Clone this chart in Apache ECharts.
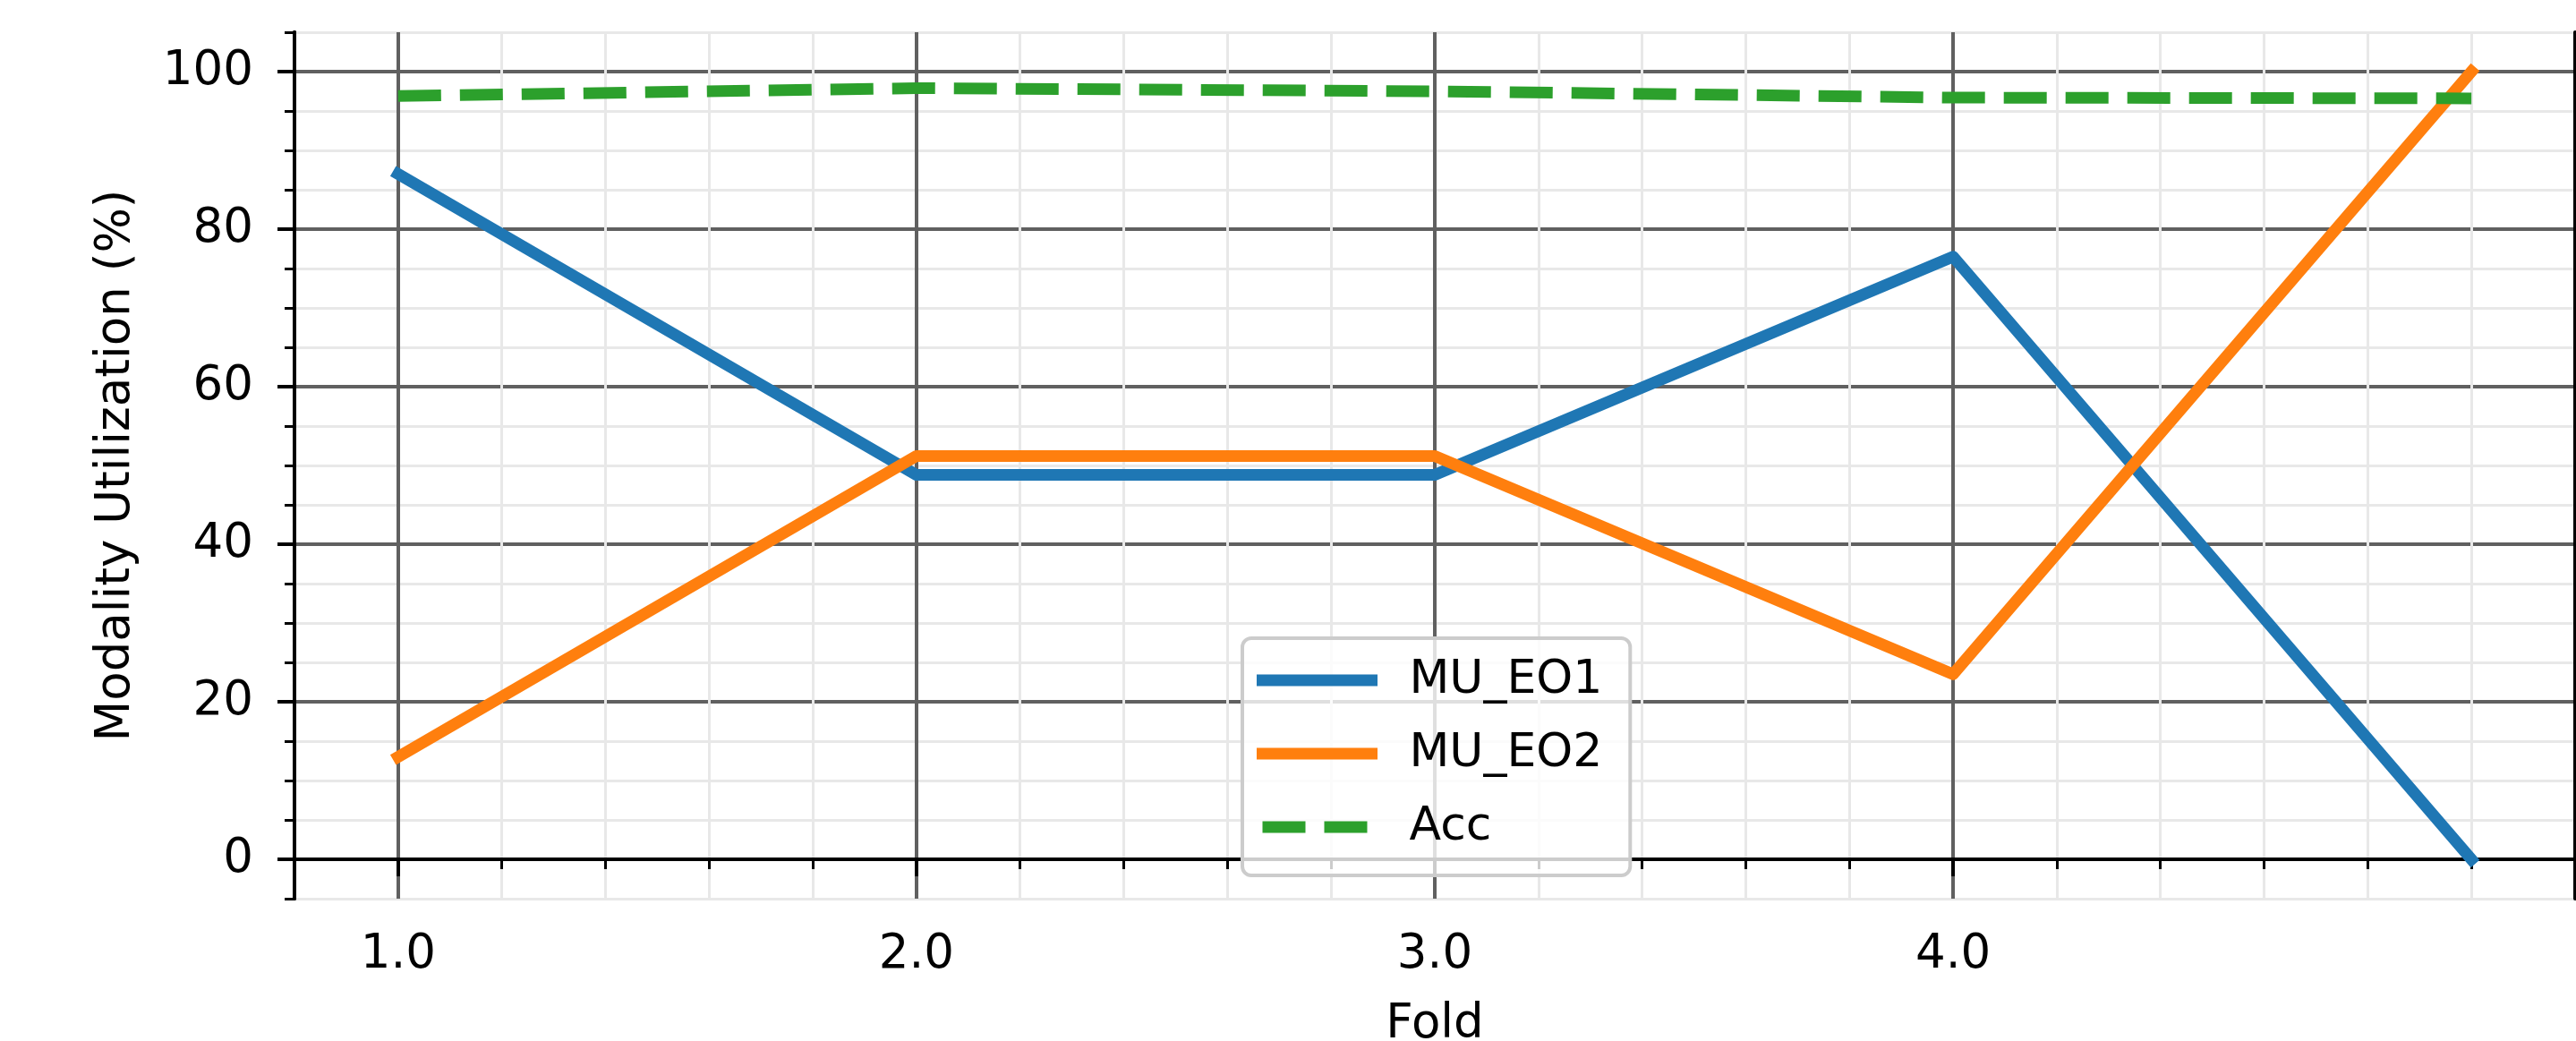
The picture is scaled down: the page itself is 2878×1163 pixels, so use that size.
<!DOCTYPE html>
<html>
<head>
<meta charset="utf-8">
<script src="https://cdn.jsdelivr.net/npm/echarts@6/dist/echarts.min.js"></script>
<style>
html, body { margin: 0; padding: 0; background: #fff; }
#chart { width: 2878px; height: 1163px; }
</style>
</head>
<body>
<div id="chart"></div>
<script>
// data
var folds = [1, 2, 3, 4, 5];
var muEo1 = [87, 48.8, 48.8, 76.5, 0];
var muEo2 = [13, 51.2, 51.2, 23.5, 100];
var acc = [96.9, 97.9, 97.5, 96.7, 96.6];

// tick marks
var xMajorTicks = [1, 2, 3, 4];
var xMinorTicks = [1, 1.2, 1.4, 1.6, 1.8, 2, 2.2, 2.4, 2.6, 2.8, 3, 3.2, 3.4, 3.6, 3.8, 4, 4.2, 4.4, 4.6, 4.8, 5];
var yMajorTicks = [0, 20, 40, 60, 80, 100];

var font = 'DejaVu Sans';

var pairs = function (ys) {
  return folds.map(function (f, i) { return [f, ys[i]]; });
};

var hidden = { show: false };

var myChart = echarts.init(document.getElementById('chart'));
var option = {
  animation: false,
  backgroundColor: '#fff',
  grid: { left: 329, right: 1, top: 36, bottom: 159, outerBoundsMode: 'none', containLabel: false },
  legend: {
    orient: 'vertical',
    left: 1388,
    top: 713,
    padding: [16, 31, 23, 16],
    itemWidth: 122,
    itemHeight: 13,
    itemGap: 20,
    backgroundColor: 'rgba(255,255,255,0.8)',
    borderColor: '#cccccc',
    borderWidth: 4,
    borderRadius: 10,
    lineStyle: { width: 13 },
    itemStyle: { opacity: 0 },
    textStyle: { fontFamily: font, fontSize: 52, color: '#000', lineHeight: 62, padding: [0, 0, 0, 37] },
    data: ['MU_EO1', 'MU_EO2', 'Acc']
  },
  xAxis: [
    {
      // minor grid / ticks, carries the data
      type: 'value', min: 0.8, max: 5.2,
      axisLine: { show: true, lineStyle: { color: '#000', width: 4 } },
      axisTick: { show: true, length: 11, customValues: xMinorTicks, lineStyle: { color: '#000', width: 3 } },
      axisLabel: hidden,
      splitLine: { show: true, lineStyle: { color: '#e8e8e8', width: 3 } }
    },
    {
      // major grid / ticks / labels
      type: 'value', min: 0.8, max: 5.2, position: 'bottom',
      name: 'Fold', nameLocation: 'middle', nameGap: 115,
      nameTextStyle: { fontFamily: font, fontSize: 53, color: '#000' },
      axisLine: { show: true, lineStyle: { color: '#000', width: 4 } },
      axisTick: { show: true, length: 19, customValues: xMajorTicks, lineStyle: { color: '#000', width: 4 } },
      axisLabel: {
        show: true, customValues: xMajorTicks, margin: 37,
        fontFamily: font, fontSize: 53, color: '#000',
        formatter: function (v) { return v.toFixed(1); }
      },
      splitLine: { show: true, lineStyle: { color: '#606060', width: 4 } }
    },
    {
      // top spine
      type: 'value', min: 0.8, max: 5.2, position: 'top',
      axisLine: { show: true, lineStyle: { color: '#000', width: 4 } },
      axisTick: hidden, axisLabel: hidden, splitLine: hidden
    }
  ],
  yAxis: [
    {
      type: 'value', min: -5, max: 105, interval: 5,
      axisLine: { show: true, lineStyle: { color: '#000', width: 4 } },
      axisTick: { show: true, length: 11, lineStyle: { color: '#000', width: 3 } },
      axisLabel: hidden,
      splitLine: { show: true, lineStyle: { color: '#e8e8e8', width: 3 } }
    },
    {
      type: 'value', min: -5, max: 105, position: 'left',
      name: 'Modality Utilization (%)', nameLocation: 'middle', nameGap: 172,
      nameTextStyle: { fontFamily: font, fontSize: 53, color: '#000' },
      axisLine: { show: true, lineStyle: { color: '#000', width: 4 } },
      axisTick: { show: true, length: 19, customValues: yMajorTicks, lineStyle: { color: '#000', width: 4 } },
      axisLabel: {
        show: true, customValues: yMajorTicks, margin: 46,
        fontFamily: font, fontSize: 53, color: '#000'
      },
      splitLine: { show: true, lineStyle: { color: '#606060', width: 4 } }
    },
    {
      type: 'value', min: -5, max: 105, position: 'right',
      axisLine: { show: true, lineStyle: { color: '#000', width: 4 } },
      axisTick: hidden, axisLabel: hidden, splitLine: hidden
    }
  ],
  series: [
    {
      name: 'MU_EO1', type: 'line', xAxisIndex: 0, yAxisIndex: 0,
      data: pairs(muEo1), symbol: 'none', color: '#1f77b4',
      lineStyle: { width: 13, cap: 'square', join: 'round' }
    },
    {
      name: 'MU_EO2', type: 'line', xAxisIndex: 0, yAxisIndex: 0,
      data: pairs(muEo2), symbol: 'none', color: '#ff7f0e',
      lineStyle: { width: 13, cap: 'square', join: 'round' }
    },
    {
      name: 'Acc', type: 'line', xAxisIndex: 0, yAxisIndex: 0,
      data: pairs(acc), symbol: 'none', color: '#2ca02c',
      lineStyle: { width: 13, type: [48, 21], cap: 'butt', join: 'round' }
    }
  ]
};
myChart.setOption(option);
</script>
</body>
</html>
